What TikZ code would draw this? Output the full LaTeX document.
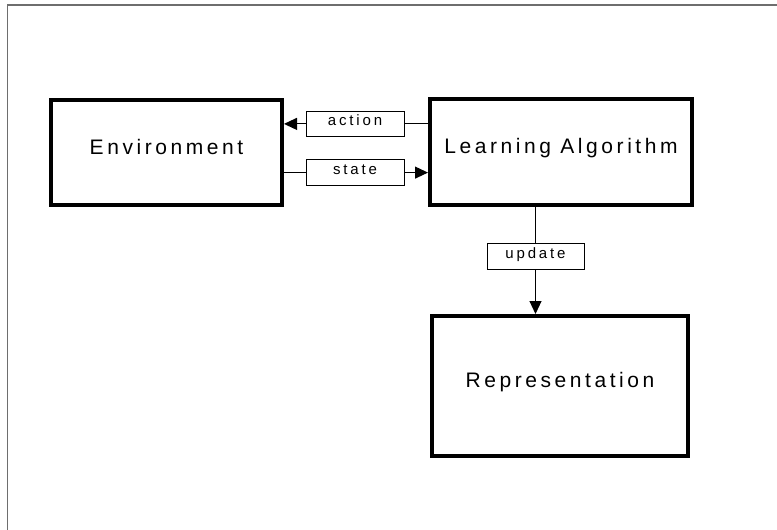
\documentclass[tikz,border=0pt]{standalone}
\usepackage{fontspec}
\setmainfont{Liberation Sans}
\newfontfamily\boxfont[LetterSpace=17]{Liberation Sans}
\newfontfamily\tagfont[LetterSpace=19]{Liberation Sans}
\usetikzlibrary{arrows.meta}
\definecolor{framegray}{HTML}{6E6E6E}
\begin{document}
\begin{tikzpicture}[x=1pt,y=-1pt,
  block/.style={draw, line width=4pt, inner sep=0pt,
    font=\boxfont\fontsize{21}{25}\selectfont},
  tag/.style={draw, line width=0.9pt, fill=white, inner sep=0pt,
    minimum width=98pt, text height=14.5pt, text depth=11pt,
    font=\tagfont\fontsize{15}{17}\selectfont},
  link/.style={line width=1.1pt},
  tip/.style={-{Triangle[length=13pt,width=12pt]}},
  outline/.style={draw=framegray, line width=1.5pt}
]
\useasboundingbox (0,0) rectangle (777,530);
% outer frame (left and top edges)
\draw[outline] (7.5,530) -- (7.5,5) -- (777,5);

% main blocks
\node[block, minimum width=231pt, text height=54pt, text depth=51pt]
  (env) at (166.5,152.5) {Environment};
\node[block, minimum width=262pt, text height=54.5pt, text depth=51.5pt]
  (la) at (561,152) {Learning Algorithm};
\node[block, minimum width=256pt, text height=71.3pt, text depth=68.2pt]
  (rep) at (560,385.75) {Representation};

% labelled connectors
\node[tag] (act) at (355,123.9) {action};
\node[tag] (st) at (355,172.6) {state};
\node[tag, minimum width=97pt] (up) at (535.5,256.5) {update};

\draw[link] (la.west |- act) -- (act.east);
\draw[link, tip] (act.west) -- (env.east |- act);

\draw[link] (env.east |- st) -- (st.west);
\draw[link, tip] (st.east) -- (la.west |- st);

\draw[link] (la.south -| up) -- (up.north);
\draw[link, tip] (up.south) -- (rep.north -| up);
\end{tikzpicture}
\end{document}
